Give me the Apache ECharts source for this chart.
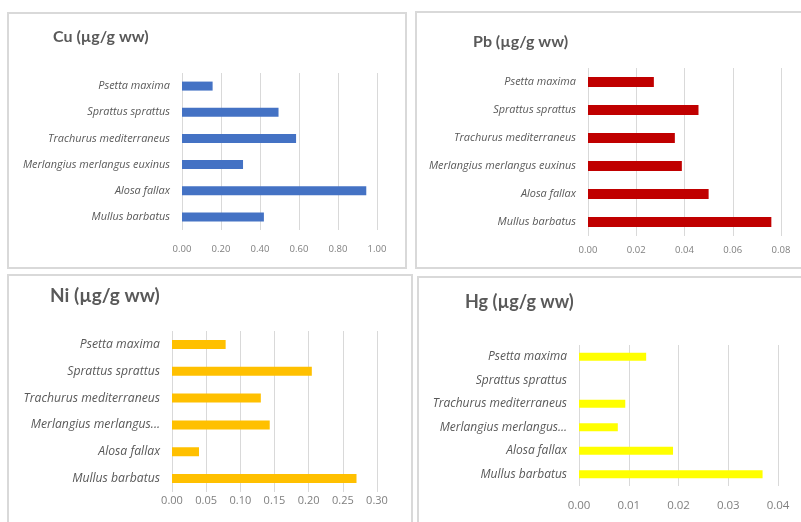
<!DOCTYPE html>
<html>
<head>
<meta charset="utf-8">
<script src="https://cdn.jsdelivr.net/npm/echarts@6/dist/echarts.min.js"></script>
<style>
  html, body { margin: 0; padding: 0; background: #fff; }
  #chart { width: 801px; height: 522px; }
</style>
</head>
<body>
<div id="chart"></div>
<script>
// species listed bottom -> top (category y axis starts at the bottom)
const species = ['Mullus barbatus', 'Alosa fallax', 'Merlangius merlangus euxinus',
  'Trachurus mediterraneus', 'Sprattus sprattus', 'Psetta maxima'];

const cu = [0.42, 0.945, 0.313, 0.585, 0.495, 0.157];
const pb = [0.076, 0.050, 0.0389, 0.036, 0.0458, 0.0273];
const ni = [0.270, 0.0395, 0.143, 0.130, 0.2046, 0.0785];
const hg = [0.0369, 0.0189, 0.0078, 0.0093, null, 0.0135];

const titles = ['Cu (µg/g ww)', 'Pb (µg/g ww)', 'Ni (µg/g ww)', 'Hg (µg/g ww)'];
const colors = ['#4472C4', '#C00000', '#FFC000', '#FFFF00'];
const axisMax = [1, 0.08, 0.3, 0.04];
const axisStep = [0.2, 0.02, 0.05, 0.01];

// panel layout (pixels)
const panels = [
  { box: [8, 13, 398, 255], grid: { left: 182, top: 73, width: 195, height: 157 }, title: [53, 29, 16], lab: 10.9, tick: 9.5, tickMargin: 14, barW: 9 },
  { box: [416, 12, 392, 256], grid: { left: 588, top: 68, width: 193, height: 168 }, title: [473, 34, 16], lab: 10.9, tick: 9.5, tickMargin: 9, barW: 10 },
  { box: [8, 275, 404, 254], grid: { left: 172, top: 331, width: 205, height: 161 }, title: [50, 286, 19], lab: 12.2, tick: 11, tickMargin: 3, barW: 9 },
  { box: [418, 277, 390, 252], grid: { left: 579, top: 345, width: 199, height: 141 }, title: [465, 293, 18], lab: 12, tick: 11.5, tickMargin: 14, barW: 8 },
];
const seriesData = [cu, pb, ni, hg];

const FONT = 'Lato, "Open Sans", sans-serif';
const LABEL_FONT = '"Open Sans", Lato, sans-serif';
const chart = echarts.init(document.getElementById('chart'));

const shortName = v => v.length > 24 ? v.slice(0, 20) + '...' : v;

chart.setOption({
  backgroundColor: '#ffffff',
  animation: false,
  graphic: panels.map(p => ({
    type: 'rect', z: -10, silent: true,
    shape: { x: p.box[0], y: p.box[1], width: p.box[2], height: p.box[3] },
    style: { fill: '#ffffff', stroke: '#d9d9d9', lineWidth: 2 },
  })),
  title: panels.map((p, i) => ({
    text: titles[i], left: p.title[0], top: p.title[1], padding: 0,
    textStyle: { fontFamily: FONT, fontWeight: 'bold', fontSize: p.title[2], color: '#595959' },
  })),
  grid: panels.map(p => ({ ...p.grid, containLabel: false })),
  xAxis: panels.map((p, i) => ({
    type: 'value', gridIndex: i, min: 0, max: axisMax[i], interval: axisStep[i],
    axisLine: { show: false }, axisTick: { show: false },
    splitLine: { show: true, lineStyle: { color: '#d9d9d9', width: 1 } },
    axisLabel: {
      fontFamily: LABEL_FONT, fontSize: p.tick, color: '#7f7f7f', margin: p.tickMargin,
      formatter: v => v.toFixed(2),
    },
  })),
  yAxis: panels.map((p, i) => ({
    type: 'category', gridIndex: i, data: species,
    axisLine: { show: false }, axisTick: { show: false },
    axisLabel: {
      fontFamily: LABEL_FONT, fontSize: p.lab, fontStyle: 'italic', color: '#595959', margin: 12,
      formatter: i >= 2 ? shortName : v => v,
    },
  })),
  series: seriesData.map((d, i) => ({
    type: 'bar', xAxisIndex: i, yAxisIndex: i, data: d,
    barWidth: panels[i].barW,
    itemStyle: { color: colors[i] },
  })),
});
</script>
</body>
</html>
